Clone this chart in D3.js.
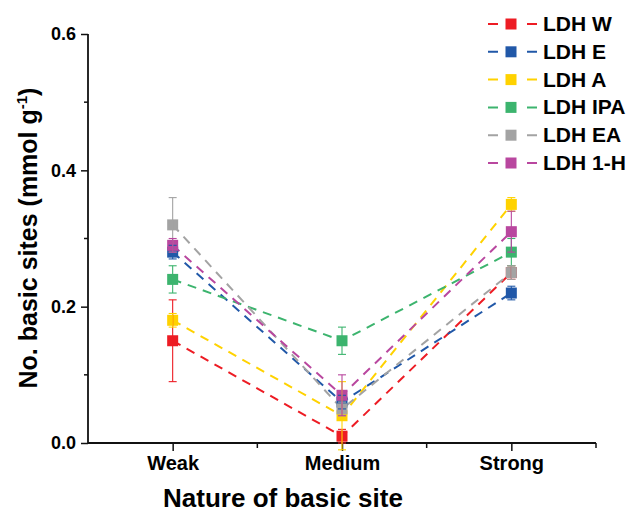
<!DOCTYPE html>
<html>
<head>
    <meta charset="utf-8">
    <title>Basic sites</title>
    <script src="https://d3js.org/d3.v7.min.js"></script>
    <style>
        html, body {
            margin: 0;
            background: white;
        }
        text {
            font-family: "Liberation Sans", Arial, sans-serif;
            font-weight: bold;
        }
    </style>
</head>
<body>
    <svg id="svg"></svg>
    <script>
        const categories = ["Weak", "Medium", "Strong"];
        const seriesNames = ["LDH W", "LDH E", "LDH A", "LDH IPA", "LDH EA", "LDH 1-H"];
        const seriesColors = ["#ed1c24", "#2158a8", "#ffd200", "#3cb46e", "#a3a3a3", "#b9479f"];

        const ldhW = [0.15, 0.01, 0.25];
        const ldhE = [0.28, 0.06, 0.22];
        const ldhA = [0.18, 0.04, 0.35];
        const ldhIPA = [0.24, 0.15, 0.28];
        const ldhEA = [0.32, 0.05, 0.25];
        const ldh1H = [0.29, 0.07, 0.31];

        const errW = [0.06, 0.01, 0.01];
        const errE = [0.01, 0.01, 0.01];
        const errA = [0.01, 0.05, 0.01];
        const errIPA = [0.02, 0.02, 0.02];
        const errEA = [0.04, 0.01, 0.01];
        const err1H = [0.01, 0.03, 0.03];

        const yTicks = [0.0, 0.2, 0.4, 0.6];
        const yMinorTicks = [0.1, 0.3, 0.5];

        const values = [ldhW, ldhE, ldhA, ldhIPA, ldhEA, ldh1H];
        const errors = [errW, errE, errA, errIPA, errEA, err1H];

        const width = 629, height = 517;
        const margins = { top: 34, left: 88, right: 33, bottom: 74 };

        const svg = d3.select("#svg")
            .attr("width", width)
            .attr("height", height);

        const x = d3.scalePoint()
            .domain(categories)
            .range([margins.left, width - margins.right])
            .padding(0.5);

        const y = d3.scaleLinear()
            .domain([0, 0.6])
            .range([height - margins.bottom, margins.top]);

        const series = seriesNames.map((name, i) => ({
            name: name,
            color: seriesColors[i],
            points: categories.map((c, j) => ({ cat: c, value: values[i][j], err: errors[i][j] }))
        }));

        // axes
        const step = x.step();
        const xMinor = categories.map(c => x(c) + step / 2);

        const xAxisG = svg.append("g")
            .attr("transform", `translate(0, ${y(0)})`);
        xAxisG.call(d3.axisBottom(x).tickSize(8).tickPadding(5))
            .call(g => g.select(".domain").remove());
        xAxisG.selectAll(".tick text")
            .attr("font-size", 20)
            .attr("font-family", "Liberation Sans, Arial, sans-serif")
            .attr("font-weight", "bold")
            .attr("fill", "#000");
        xAxisG.selectAll(".minor")
            .data(xMinor)
            .enter()
            .append("line")
            .attr("x1", d => d)
            .attr("x2", d => d)
            .attr("y1", 0)
            .attr("y2", 5)
            .attr("stroke", "#111")
            .attr("stroke-width", 1.5);

        const yAxisG = svg.append("g")
            .attr("transform", `translate(${margins.left}, 0)`);
        yAxisG.call(d3.axisLeft(y).tickValues(yTicks).tickFormat(d3.format(".1f")).tickSize(7).tickPadding(5))
            .call(g => g.select(".domain").remove());
        yAxisG.selectAll(".tick text")
            .attr("font-size", 18)
            .attr("font-family", "Liberation Sans, Arial, sans-serif")
            .attr("font-weight", "bold")
            .attr("fill", "#000");
        yAxisG.selectAll(".minor")
            .data(yMinorTicks)
            .enter()
            .append("line")
            .attr("x1", -4)
            .attr("x2", 0)
            .attr("y1", d => y(d))
            .attr("y2", d => y(d))
            .attr("stroke", "#111")
            .attr("stroke-width", 1.5);
        svg.selectAll(".tick line")
            .attr("stroke", "#111")
            .attr("stroke-width", 1.5);

        // spines
        svg.append("line")
            .attr("x1", margins.left).attr("x2", margins.left)
            .attr("y1", y(0.6)).attr("y2", y(0))
            .attr("stroke", "#111").attr("stroke-width", 1.8);
        svg.append("line")
            .attr("x1", margins.left).attr("x2", width - margins.right)
            .attr("y1", y(0)).attr("y2", y(0))
            .attr("stroke", "#111").attr("stroke-width", 1.8);

        // axis titles
        svg.append("text")
            .attr("x", 283)
            .attr("y", 507)
            .attr("text-anchor", "middle")
            .attr("font-size", 26)
            .text("Nature of basic site");

        const yTitle = svg.append("text")
            .attr("transform", `translate(37, 238) rotate(-90)`)
            .attr("text-anchor", "middle")
            .attr("font-size", 25);
        yTitle.append("tspan").text("No. basic sites (mmol g");
        yTitle.append("tspan").attr("font-size", 15).attr("dy", -10).text("-1");
        yTitle.append("tspan").attr("dy", 10).text(")");

        // lines
        const line = d3.line()
            .x(d => x(d.cat))
            .y(d => y(d.value));

        svg.append("g")
            .selectAll("path")
            .data(series)
            .enter()
            .append("path")
            .attr("d", d => line(d.points))
            .attr("fill", "none")
            .attr("stroke", d => d.color)
            .attr("stroke-width", 2)
            .attr("stroke-dasharray", "9,7");

        // markers
        const ms = 11;
        const markerG = svg.append("g");
        series.forEach(s => {
            markerG.selectAll(null)
                .data(s.points)
                .enter()
                .append("rect")
                .attr("x", d => x(d.cat) - ms / 2)
                .attr("y", d => y(d.value) - ms / 2)
                .attr("width", ms)
                .attr("height", ms)
                .attr("fill", s.color);
        });

        // error bars
        const errG = svg.append("g");
        series.forEach(s => {
            const g = errG.selectAll(null)
                .data(s.points)
                .enter()
                .append("g")
                .attr("stroke", s.color)
                .attr("stroke-width", 1.1);
            g.append("line")
                .attr("x1", d => x(d.cat)).attr("x2", d => x(d.cat))
                .attr("y1", d => y(d.value + d.err)).attr("y2", d => y(d.value - d.err));
            g.append("line")
                .attr("x1", d => x(d.cat) - 4).attr("x2", d => x(d.cat) + 4)
                .attr("y1", d => y(d.value + d.err)).attr("y2", d => y(d.value + d.err));
            g.append("line")
                .attr("x1", d => x(d.cat) - 4).attr("x2", d => x(d.cat) + 4)
                .attr("y1", d => y(d.value - d.err)).attr("y2", d => y(d.value - d.err));
        });

        // legend
        const legend = svg.append("g");
        const rows = legend.selectAll("g")
            .data(series)
            .enter()
            .append("g")
            .attr("transform", (d, i) => `translate(0, ${24 + i * 27.8})`);
        rows.append("line")
            .attr("x1", 488).attr("x2", 537)
            .attr("y1", 0).attr("y2", 0)
            .attr("stroke", d => d.color)
            .attr("stroke-width", 2)
            .attr("stroke-dasharray", "10,29");
        rows.append("rect")
            .attr("x", 511 - ms / 2)
            .attr("y", -ms / 2)
            .attr("width", ms)
            .attr("height", ms)
            .attr("fill", d => d.color);
        rows.append("text")
            .attr("x", 543)
            .attr("y", 7)
            .attr("font-size", 21)
            .text(d => d.name);
    </script>
</body>
</html>
